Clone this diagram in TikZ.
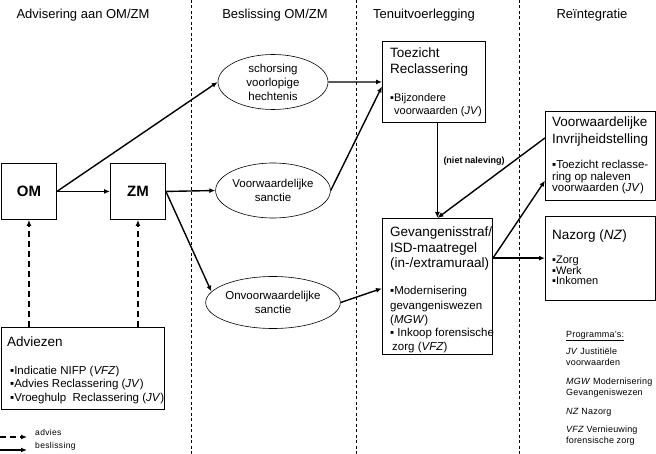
\documentclass[tikz,border=0pt]{standalone}
\usepackage{fontspec}
\setmainfont{Liberation Sans}
\usetikzlibrary{arrows.meta,shapes.geometric}
\begin{document}
\begin{tikzpicture}[x=1pt,y=-1pt,
  box/.style={draw,line width=0.9pt,inner sep=0pt,anchor=north west},
  ell/.style={ellipse,draw,line width=0.6pt,minimum width=110pt,minimum height=55pt,inner sep=0pt,align=center,font=\fontsize{11.5}{14}\selectfont},
  arr/.style={-{Latex[length=6pt,width=5pt]},line width=1.4pt},
  darr/.style={arr,dash pattern=on 6pt off 4pt},
  sep/.style={line width=0.6pt,dash pattern=on 3pt off 2.5pt},
  txt/.style={anchor=base west,align=left,inner sep=0pt},
  ttl/.style={txt,font=\fontsize{13.5}{16}\selectfont},
  bul/.style={txt,font=\fontsize{11.5}{13.5}\selectfont},
  head/.style={anchor=base,inner sep=0pt,font=\fontsize{13}{15}\selectfont},
  small/.style={txt,font=\fontsize{8.5}{8}\selectfont\addfontfeature{LetterSpace=4}},
  prg/.style={txt,font=\fontsize{9}{11}\selectfont\addfontfeature{LetterSpace=2}}
]
\useasboundingbox (0,0) rectangle (656,454);
% separators
\draw[sep] (191,0) -- (191,454);
\draw[sep] (356,0) -- (356,454);
\draw[sep] (519,0) -- (519,454);
% headers
\node[head] (h1) at (83,19) {Advisering aan OM/ZM};
\node[head] (h2) at (275,19) {Beslissing OM/ZM};
\node[head] (h3) at (424,19) {Tenuitvoerlegging};
\node[head] (h4) at (592,19) {Reïntegratie};
% boxes
\node[box,minimum width=55pt,minimum height=56pt,anchor=north west,font=\fontsize{15}{15}\selectfont\bfseries] (om) at (1,163) {OM};
\node[box,minimum width=55pt,minimum height=56pt,anchor=north west,font=\fontsize{15}{15}\selectfont\bfseries] (zm) at (110,163) {ZM};
\node[ell] (e1) at (273,82) {schorsing\\voorlopige\\hechtenis};
\node[ell] (e2) at (273,190.5) {Voorwaardelijke\\sanctie};
\node[ell,minimum height=52pt] (e3) at (273,302.5) {Onvoorwaardelijke\\sanctie};
\node[box,minimum width=103pt,minimum height=81pt] (toez) at (382,41) {};
\node[box,minimum width=110pt,minimum height=136pt] (gev) at (382,218) {};
\node[box,minimum width=110pt,minimum height=89pt] (vi) at (545,111) {};
\node[box,minimum width=110pt,minimum height=84pt] (naz) at (545,216) {};
\node[box,minimum width=163pt,minimum height=82pt] (adv) at (1,327) {};
% box texts (anchored at the baseline of their last line)
\node[ttl] (toezT) at (390,74) {Toezicht\\Reclassering};
\node[bul,font=\fontsize{11}{13}\selectfont] (toezB) at (390,115) {▪Bijzondere\\\hspace*{4pt}voorwaarden (\textit{JV})};
\node[ttl,font=\fontsize{13.5}{15.5}\selectfont] (gevT) at (390,268) {Gevangenisstraf/\\ISD-maatregel\\(in-/extramuraal)};
\node[bul,font=\fontsize{11.5}{14}\selectfont] (gevB) at (390,351) {▪Modernisering\\gevangeniswezen\\(\textit{MGW})\\▪ Inkoop forensische\\\hspace*{2pt}zorg (\textit{VFZ})};
\node[ttl,font=\fontsize{13.5}{16.5}\selectfont] (viT) at (552,143.5) {Voorwaardelijke\\Invrijheidstelling};
\node[bul,font=\fontsize{11.5}{11.5}\selectfont] (viB) at (552,192) {▪Toezicht reclasse-\\ring op naleven\\voorwaarden (\textit{JV})};
\node[ttl] (nazT) at (552,240) {Nazorg (\textit{NZ})};
\node[bul,font=\fontsize{11}{10.5}\selectfont] (nazB) at (552,285) {▪Zorg\\▪Werk\\▪Inkomen};
\node[ttl] (advT) at (7,347) {Adviezen};
\node[bul] (advB) at (10,401) {▪Indicatie NIFP (\textit{VFZ})\\▪Advies Reclassering (\textit{JV})\\▪Vroeghulp\ \ Reclassering (\textit{JV})};
% connectors
\draw[arr] (om.east) -- (zm.west);
\draw[arr] (om.east) -- (e1.west);
\draw[arr] (zm.east) -- (e2.west);
\draw[arr] (zm.east) -- (e3.170);
\draw[arr] (e1.east) -- (toez.west);
\draw[arr] (e2.east) -- (toez.185);
\draw[arr] (e3.east) -- (gev.182);
\draw[arr] (gev.north |- toez.south) -- (gev.north);
\draw[arr] (vi.162) -- (gev.north);
\draw[arr] (gev.27) -- (vi.204);
\draw[arr] (gev.27) -- (naz.west |- gev.27);
\node[anchor=center,inner sep=0pt,font=\fontsize{9}{10}\selectfont\bfseries] (nn) at (474,161) {(niet naleving)};
\draw[darr] (om.south |- adv.north) -- (om.south);
\draw[darr] (zm.south |- adv.north) -- (zm.south);
% legend
\coordinate (la1) at (0,437);
\coordinate (la2) at (27,437);
\coordinate (lb1) at (0,450);
\coordinate (lb2) at (27,450);
\draw[darr] (la1) -- (la2);
\draw[arr] (lb1) -- (lb2);
\node[small] (lgA) at (35,435) {advies};
\node[small] (lgB) at (35,448) {beslissing};
\node[prg] (prog) at (566,443) {\underline{Programma's:}\\[6pt]\textit{JV} Justitiële\\voorwaarden\\[8pt]\textit{MGW} Modernisering\\Gevangeniswezen\\[8pt]\textit{NZ} Nazorg\\[7pt]\textit{VFZ} Vernieuwing\\forensische zorg};
\end{tikzpicture}
\end{document}
